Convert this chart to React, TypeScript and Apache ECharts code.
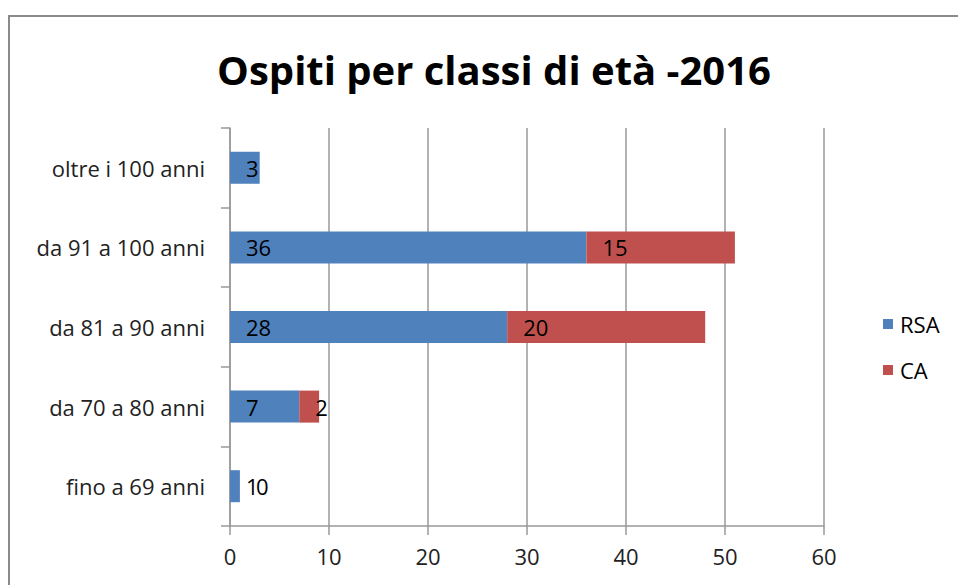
import React, { useEffect, useRef } from "react";
import * as echarts from "echarts";

const categories = ["fino a 69 anni", "da 70 a 80 anni", "da 81 a 90 anni", "da 91 a 100 anni", "oltre i 100 anni"];
const rsaValues = [1, 7, 28, 36, 3];
const caValues: (number | null)[] = [0, 2, 20, 15, null];
const xTicks = { min: 0, max: 60, interval: 10 };
const titleText = "Ospiti per classi di età -2016";

const FONT = "Open Sans";

export default function App() {
  const ref = useRef<HTMLDivElement>(null);
  useEffect(() => {
    if (!ref.current) return;
    const chart = echarts.init(ref.current, undefined, { renderer: "svg" });
    const labelCfg = {
      show: true,
      position: "insideLeft" as const,
      distance: 16,
      color: "#000",
      fontSize: 22,
      fontFamily: FONT,
    };
    chart.setOption({
      animation: false,
      backgroundColor: "#fff",
      title: {
        text: titleText,
        left: 489,
        textAlign: "center",
        top: 44,
        textStyle: { fontFamily: FONT, fontWeight: "bold", fontSize: 40, color: "#000" },
      },
      graphic: [
        {
          type: "rect",
          shape: { x: 9, y: 16, width: 1000, height: 700 },
          style: { fill: "none", stroke: "#8a8a8a", lineWidth: 2 },
          silent: true,
        },
      ],
      legend: {
        orient: "vertical",
        left: 878,
        top: 306,
        itemWidth: 10,
        itemHeight: 10,
        itemGap: 20,
        icon: "rect",
        textStyle: { fontFamily: FONT, fontSize: 22, color: "#000", lineHeight: 26, padding: [0, 0, 0, 2] },
        data: ["RSA", "CA"],
      },
      grid: { left: 230, right: 134, top: 128, bottom: 59, containLabel: false },
      xAxis: {
        type: "value",
        min: xTicks.min,
        max: xTicks.max,
        interval: xTicks.interval,
        axisLine: { show: true, lineStyle: { color: "#999", width: 1.5 } },
        axisTick: { show: true, length: 9, lineStyle: { color: "#999", width: 1.5 } },
        splitLine: { show: true, lineStyle: { color: "#999", width: 1.5 } },
        axisLabel: { color: "#222", fontFamily: FONT, fontSize: 22, margin: 19 },
      },
      yAxis: {
        type: "category",
        data: categories,
        axisLine: { show: true, lineStyle: { color: "#999", width: 1.5 } },
        axisTick: { show: true, length: 9, lineStyle: { color: "#999", width: 1.5 } },
        axisLabel: { color: "#222", fontFamily: FONT, fontSize: 22, margin: 25 },
      },
      series: [
        {
          name: "RSA",
          type: "bar",
          stack: "tot",
          data: rsaValues,
          barWidth: 32,
          itemStyle: { color: "#4F81BD" },
          label: labelCfg,
        },
        {
          name: "CA",
          type: "bar",
          stack: "tot",
          data: caValues,
          barWidth: 32,
          itemStyle: { color: "#C0504D" },
          label: labelCfg,
        },
      ],
    });
    return () => chart.dispose();
  }, []);
  return <div ref={ref} style={{ position: "absolute", left: 0, top: 0, width: 958, height: 585 }} />;
}
